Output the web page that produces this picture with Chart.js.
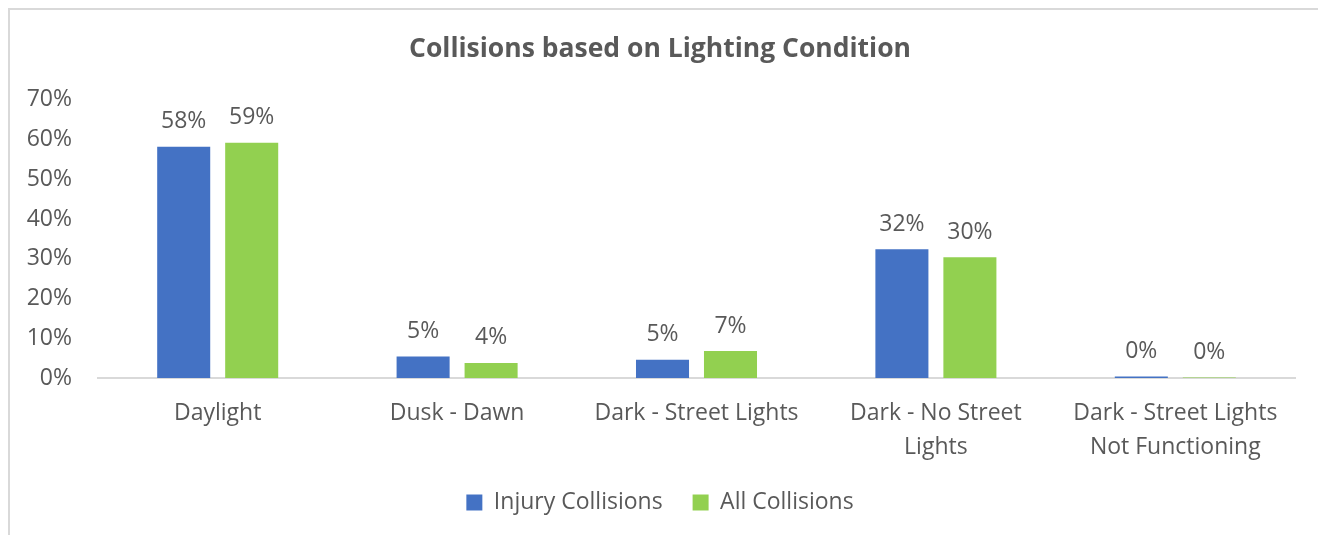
<!DOCTYPE html>
<html>
<head>
<meta charset="utf-8">
<title>Collisions based on Lighting Condition</title>
<script src="https://cdn.jsdelivr.net/npm/chart.js@4"></script>
<style>
  html, body { margin: 0; padding: 0; background: #fff; }
  body { width: 1318px; height: 535px; overflow: hidden; position: relative; }
  .frame {
    position: absolute; left: 8px; top: 8px; width: 1320px; height: 540px;
    border-left: 2px solid #d9d9d9; border-top: 2px solid #d9d9d9;
  }
  .chart-box { position: absolute; left: 10px; top: 10px; width: 1308px; height: 514px; }
</style>
</head>
<body>
<div class="frame"></div>
<div class="chart-box"><canvas id="lightingChart"></canvas></div>
<script>
const categories = [
  'Daylight',
  'Dusk - Dawn',
  'Dark - Street Lights',
  ['Dark - No Street', 'Lights'],
  ['Dark - Street Lights', 'Not Functioning']
];
const injuryCollisions = [58.2, 5.4, 4.6, 32.4, 0.4];
const allCollisions = [59.2, 3.8, 6.8, 30.4, 0.1];
const yTicks = [0, 10, 20, 30, 40, 50, 60, 70];

const textColor = '#595959';
const fontFamily = '"Open Sans", "Noto Sans", sans-serif';

// value labels above each bar
const barLabels = {
  id: 'barLabels',
  afterDatasetsDraw(chart) {
    const ctx = chart.ctx;
    ctx.save();
    ctx.font = '23px ' + fontFamily;
    ctx.fillStyle = textColor;
    ctx.textAlign = 'center';
    ctx.textBaseline = 'middle';
    chart.data.datasets.forEach((ds, i) => {
      chart.getDatasetMeta(i).data.forEach((bar, j) => {
        const { x, y } = bar.getProps(['x', 'y'], true);
        ctx.fillText(Math.round(ds.data[j]) + '%', x, y - 25);
      });
    });
    ctx.restore();
  }
};

new Chart(document.getElementById('lightingChart'), {
  type: 'bar',
  data: {
    labels: categories,
    datasets: [
      {
        label: 'Injury Collisions',
        data: injuryCollisions,
        backgroundColor: '#4472C4',
        categoryPercentage: 0.568,
        barPercentage: 0.78
      },
      {
        label: 'All Collisions',
        data: allCollisions,
        backgroundColor: '#92D050',
        categoryPercentage: 0.568,
        barPercentage: 0.78
      }
    ]
  },
  options: {
    responsive: true,
    maintainAspectRatio: false,
    animation: false,
    layout: { padding: { top: 14, right: 23, left: 15, bottom: 0 } },
    plugins: {
      title: {
        display: true,
        text: 'Collisions based on Lighting Condition',
        color: textColor,
        font: { family: fontFamily, size: 26.5, weight: 'bold' },
        padding: { top: 10, bottom: 34 }
      },
      legend: {
        position: 'bottom',
        labels: {
          color: textColor,
          font: { family: fontFamily, size: 23 },
          boxWidth: 16,
          boxHeight: 16,
          padding: 30
        }
      },
      tooltip: { enabled: false }
    },
    scales: {
      x: {
        grid: { display: false },
        border: { display: true, color: '#d9d9d9', width: 2 },
        afterFit(scale) {
          scale.height = 83;
        },
        ticks: {
          color: textColor,
          font: { family: fontFamily, size: 23, lineHeight: 1.45 },
          padding: 11,
          maxRotation: 0,
          autoSkip: false
        }
      },
      y: {
        min: 0,
        max: 70,
        grid: { display: false },
        border: { display: false },
        afterBuildTicks(scale) {
          scale.ticks = yTicks.map(v => ({ value: v }));
        },
        afterFit(scale) {
          scale.width = 73;
        },
        ticks: {
          color: textColor,
          font: { family: fontFamily, size: 23 },
          padding: 18,
          callback: v => v + '%'
        }
      }
    }
  },
  plugins: [barLabels]
});
</script>
</body>
</html>
